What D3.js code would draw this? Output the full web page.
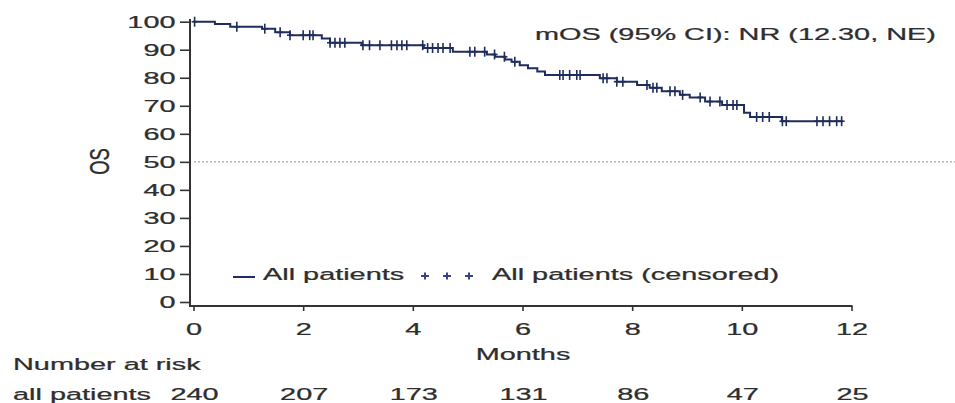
<!DOCTYPE html>
<html>
<head>
	<script src="https://d3js.org/d3.v7.min.js"></script>
	<style>
		body { margin: 0; background: #fff; }
		text { font-family: "Liberation Sans", Arial, sans-serif; fill: #2e2e2e; stroke: #2e2e2e; stroke-width: 0.25px; }
	</style>
</head>
<body>
	<div class="chart"></div>
	<script>
		// Kaplan-Meier steps (months, OS %)
		var stepTimes = [0, 0.39, 0.67, 1.25, 1.49, 1.76, 2.34, 2.49, 3.07, 4.2, 4.73, 5.35, 5.5, 5.68, 5.8, 5.95, 6.1, 6.27, 6.41, 7.41, 7.72, 8.09, 8.32, 8.54, 8.87, 9.05, 9.33, 9.64, 10.04, 10.15, 10.73];
		var stepOS = [100, 99.2, 98.2, 97.5, 96.2, 95.2, 94.0, 92.5, 91.6, 90.6, 89.3, 88.3, 87.5, 86.5, 85.7, 84.5, 83.4, 82.2, 81.0, 79.8, 78.6, 77.4, 76.4, 75.2, 73.9, 73.0, 71.5, 70.3, 67.5, 66.0, 64.5];
		var lastTime = 11.84;
		var censorTimes = [0.02, 0.79, 1.30, 1.58, 1.76, 2.0, 2.12, 2.18, 2.49, 2.58, 2.67, 2.76, 3.09, 3.21, 3.40, 3.61, 3.71, 3.80, 3.89, 4.18, 4.27, 4.36, 4.46, 4.55, 4.68, 5.04, 5.13, 5.31, 5.49, 5.67, 5.86, 6.68, 6.74, 6.86, 6.99, 7.05, 7.47, 7.54, 7.72, 7.83, 8.27, 8.38, 8.45, 8.69, 8.78, 8.92, 9.24, 9.42, 9.60, 9.73, 9.84, 9.91, 10.27, 10.38, 10.5, 10.74, 10.81, 11.37, 11.48, 11.6, 11.73, 11.82];
		var xTicks = [0, 2, 4, 6, 8, 10, 12];
		var yTicks = [0, 10, 20, 30, 40, 50, 60, 70, 80, 90, 100];
		var atRisk = [240, 207, 173, 131, 86, 47, 25];

		var w = 955, h = 403;
		var sx = 1.75; // the picture is stretched sideways
		var lineColor = "#1f2c5c";

		var svg = d3.select(".chart").append("svg")
			.attr("width", w)
			.attr("height", h);

		var x = d3.scaleLinear().domain([0, 12]).range([193.5, 851.5]);
		var y = d3.scaleLinear().domain([0, 100]).range([302, 21.7]);

		// reference line at 50
		svg.append("line")
			.attr("x1", 194).attr("x2", w)
			.attr("y1", y(50)).attr("y2", y(50))
			.attr("stroke", "#8a8a8a")
			.attr("stroke-width", 1)
			.attr("stroke-dasharray", "2,2");

		// y axis
		var gy = svg.append("g")
			.attr("transform", "translate(190,0)")
			.call(d3.axisLeft(y).tickValues(yTicks).tickSize(10).tickSizeOuter(0));
		gy.select(".domain").remove();
		gy.selectAll(".tick line").attr("stroke", "#333").attr("stroke-width", 1.6);
		gy.selectAll(".tick text")
			.attr("x", -14.5 / sx)
			.attr("dy", "0.35em")
			.attr("transform", "scale(" + sx + ",1)")
			.style("font-size", "16.5px")
			.attr("fill", null);
		svg.append("line")
			.attr("x1", 190).attr("x2", 190)
			.attr("y1", 19).attr("y2", 307)
			.attr("stroke", "#333").attr("stroke-width", 2);

		// x axis
		var gx = svg.append("g")
			.attr("transform", "translate(0,306)")
			.call(d3.axisBottom(x).tickValues(xTicks).tickSize(5).tickSizeOuter(0));
		gx.select(".domain").remove();
		gx.selectAll(".tick line").attr("stroke", "#333").attr("stroke-width", 1.6);
		gx.selectAll(".tick text")
			.attr("y", 29)
			.attr("dy", null)
			.attr("transform", "scale(" + sx + ",1)")
			.style("font-size", "16.5px")
			.attr("fill", null);
		gy.attr("font-family", null);
		gx.attr("font-family", null);
		svg.append("line")
			.attr("x1", 189).attr("x2", x(12) + 1)
			.attr("y1", 306).attr("y2", 306)
			.attr("stroke", "#333").attr("stroke-width", 2);

		function label(txt, tx, ty, anchor, size, stretch, rot) {
			var t = "translate(" + tx + "," + ty + ") scale(" + (stretch || sx) + ",1)";
			if (rot) t += " rotate(" + rot + ")";
			return svg.append("text")
				.attr("transform", t)
				.attr("text-anchor", anchor || "start")
				.style("font-size", (size || 16.5) + "px")
				.text(txt);
		}

		label("OS", 109, 161.5, "middle", 18.5, 1.45, -90);
		label("Months", 523, 360, "middle");
		label("Number at risk", 13, 370, "start");
		label("all patients", 13, 400, "start");
		label("mOS (95% CI): NR (12.30, NE)", 535, 40, "start");

		// number at risk
		atRisk.forEach(function(n, i) {
			label(n, x(xTicks[i]) + 1, 400, "middle");
		});

		// survival curve
		var pts = stepTimes.map(function(t, i) { return [t, stepOS[i]]; });
		pts.push([lastTime, stepOS[stepOS.length - 1]]);
		var line = d3.line()
			.x(function(d) { return x(d[0]); })
			.y(function(d) { return y(d[1]); })
			.curve(d3.curveStepAfter);
		svg.append("path")
			.datum(pts)
			.attr("d", line)
			.attr("fill", "none")
			.attr("stroke", lineColor)
			.attr("stroke-width", 2);

		// censor marks
		var bis = d3.bisector(function(d) { return d; }).right;
		function osAt(t) {
			return stepOS[Math.max(0, bis(stepTimes, t) - 1)];
		}
		var cg = svg.append("g").attr("stroke", lineColor).attr("stroke-width", 1.6);
		censorTimes.forEach(function(t) {
			var cx = x(t), cy = y(osAt(t));
			cg.append("line").attr("x1", cx).attr("x2", cx).attr("y1", cy - 5).attr("y2", cy + 5);
			cg.append("line").attr("x1", cx - 3).attr("x2", cx + 3).attr("y1", cy).attr("y2", cy);
		});

		// legend
		svg.append("line")
			.attr("x1", 233).attr("x2", 255)
			.attr("y1", 277).attr("y2", 277)
			.attr("stroke", lineColor).attr("stroke-width", 2);
		label("All patients", 263, 280, "start");
		var lg = svg.append("g").attr("stroke", "#34428e").attr("stroke-width", 2);
		[425, 447, 469].forEach(function(px) {
			lg.append("line").attr("x1", px - 4).attr("x2", px + 4).attr("y1", 276).attr("y2", 276);
			lg.append("line").attr("x1", px).attr("x2", px).attr("y1", 272.5).attr("y2", 279.5);
		});
		label("All patients (censored)", 492, 280, "start");
	</script>
</body>
</html>
